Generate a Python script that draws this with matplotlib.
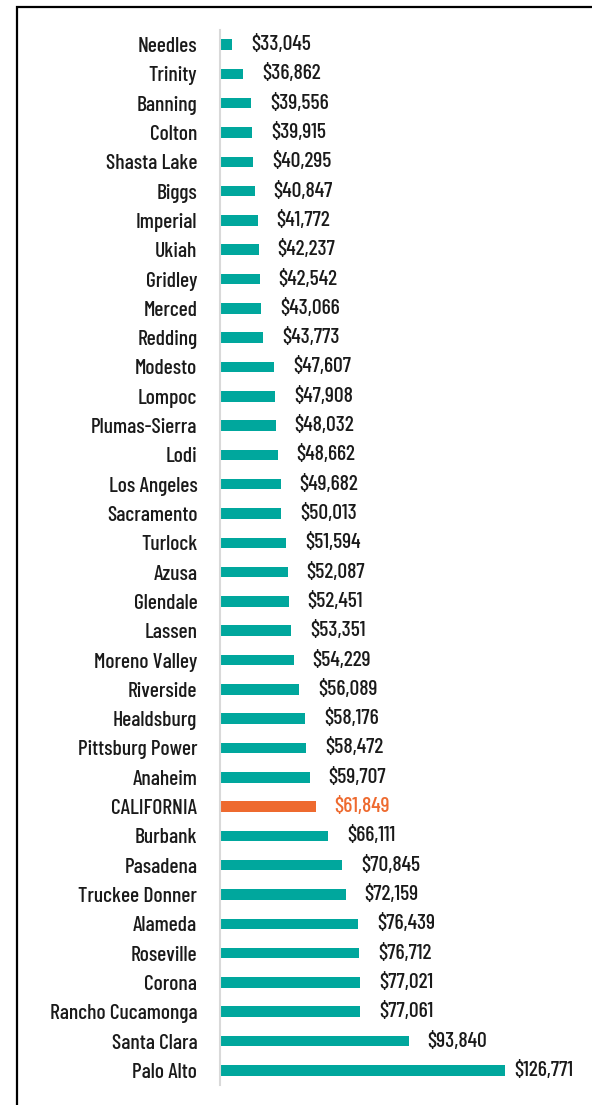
import matplotlib
matplotlib.use("Agg")
import matplotlib.pyplot as plt
from matplotlib.patches import Rectangle

# Average annual bill by utility (top to bottom as shown)
utilities = ["Needles", "Trinity", "Banning", "Colton", "Shasta Lake", "Biggs",
             "Imperial", "Ukiah", "Gridley", "Merced", "Redding", "Modesto",
             "Lompoc", "Plumas-Sierra", "Lodi", "Los Angeles", "Sacramento",
             "Turlock", "Azusa", "Glendale", "Lassen", "Moreno Valley",
             "Riverside", "Healdsburg", "Pittsburg Power", "Anaheim",
             "CALIFORNIA", "Burbank", "Pasadena", "Truckee Donner", "Alameda",
             "Roseville", "Corona", "Rancho Cucamonga", "Santa Clara", "Palo Alto"]
values = [33045, 36862, 39556, 39915, 40295, 40847, 41772, 42237, 42542, 43066,
          43773, 47607, 47908, 48032, 48662, 49682, 50013, 51594, 52087, 52451,
          53351, 54229, 56089, 58176, 58472, 59707, 61849, 66111, 70845, 72159,
          76439, 76712, 77021, 77061, 93840, 126771]
highlight = "CALIFORNIA"

teal = "#00A79D"
orange = "#EE6A2F"
txt = "#1a1a1a"

plt.rcParams['font.family'] = ["Barlow Condensed", "DejaVu Sans"]
plt.rcParams['font.weight'] = 500

fig = plt.figure(figsize=(5.92, 11.05), dpi=100)
ax = fig.add_axes([0.3708, 0.0181, 1 - 0.3708, 0.9729 - 0.0181])

ypos = list(range(len(utilities)))
colors = [orange if u == highlight else teal for u in utilities]
ax.barh(ypos, values, height=0.36, color=colors)

# axis starts above zero, like the original
ax.set_xlim(28700, 156800)
ax.set_ylim(len(utilities) - 0.5, -0.5)
ax.set_yticks(ypos)
ax.set_yticklabels(utilities, fontsize=15.5, color=txt)
ax.tick_params(axis='y', length=0, pad=16)
ax.set_xticks([])
for s in ["top", "right", "bottom"]:
    ax.spines[s].set_visible(False)
ax.spines["left"].set_color("#d9d9d9")
ax.spines["left"].set_linewidth(1.5)

# value labels (largest one sits closer so it fits)
for i, (u, v) in enumerate(zip(utilities, values)):
    off = 7 if v == max(values) else 13.5
    ax.annotate(f"${v:,}", (v, i), xytext=(off, 0), textcoords="offset points",
                va="center", ha="left", fontsize=15.5,
                color=orange if u == highlight else txt)

# screenshot frame (left and top edges)
fig.patches.append(Rectangle((17 / 592, -0.1), 2, 1.1 - 7 / 1105, transform=fig.transFigure,
                             fill=False, edgecolor="black", linewidth=1.6))

fig.savefig("out.png", dpi=100)
